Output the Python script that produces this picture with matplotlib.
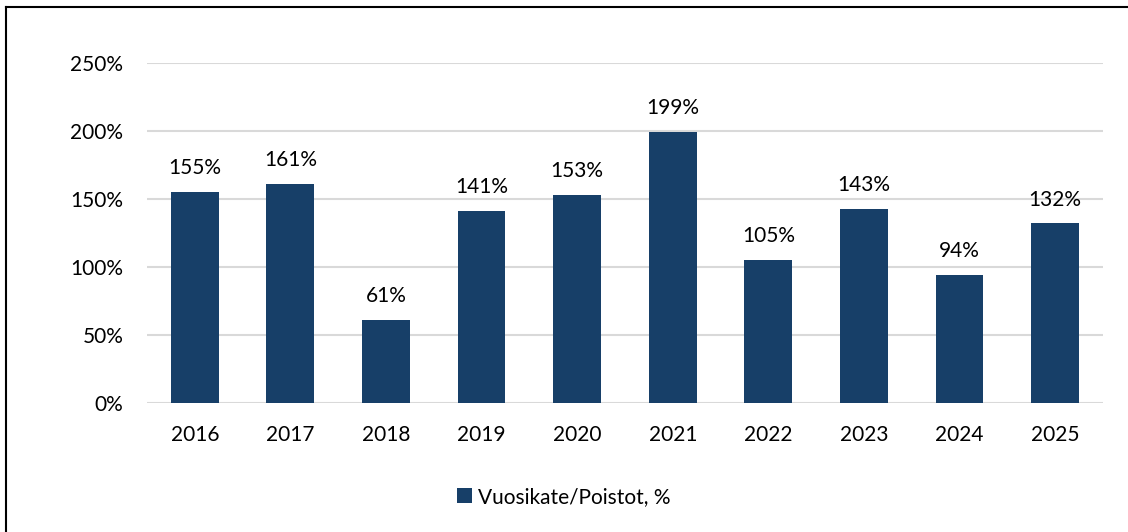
import matplotlib.pyplot as plt
from matplotlib.lines import Line2D

years = ['2016', '2017', '2018', '2019', '2020', '2021', '2022', '2023', '2024', '2025']
ratio = [155, 161, 61, 141, 153, 199, 105, 143, 94, 132]
series_name = 'Vuosikate/Poistot, %'

bar_color = '#173f68'
plt.rcParams['font.family'] = ['Lato', 'DejaVu Sans']

fig = plt.figure(figsize=(11.28, 5.32), dpi=100)
ax = fig.add_axes([0.1303, 0.2425, 0.8475, 0.6391])

x = range(len(years))
bars = ax.bar(x, ratio, width=0.5, color=bar_color, label=series_name, zorder=3)
for xi, v in zip(x, ratio):
    ax.annotate(f'{v}%', (xi, v), xytext=(0, 10), textcoords='offset points',
                ha='center', va='bottom', fontsize=15, color='#000000')

ax.set_xlim(-0.5, len(years) - 0.5)
ax.set_ylim(0, 250)
ax.set_yticks(range(0, 251, 50))
ax.set_yticklabels([f'{t}%' for t in range(0, 251, 50)])
ax.set_xticks(list(x))
ax.set_xticklabels(years)
ax.tick_params(axis='both', length=0, labelsize=15, colors='#000000')
ax.tick_params(axis='y', pad=17)
ax.tick_params(axis='x', pad=16)
ax.yaxis.grid(True, color='#d9d9d9', linewidth=1.5, zorder=0)
for s in ax.spines.values():
    s.set_visible(False)

fig.legend(handles=[bars], labels=[series_name], loc='center', bbox_to_anchor=(0.5, 0.066),
           frameon=False, fontsize=15, handlelength=0.7, handleheight=0.7, handletextpad=0.3)

# outer border (only top and left visible in the crop)
fig.add_artist(Line2D([0.0053, 0.0053], [0, 0.987], transform=fig.transFigure, color='black', linewidth=1.5))
fig.add_artist(Line2D([0.0053, 1.0], [0.987, 0.987], transform=fig.transFigure, color='black', linewidth=1.5))

fig.savefig('out.png', dpi=100)
